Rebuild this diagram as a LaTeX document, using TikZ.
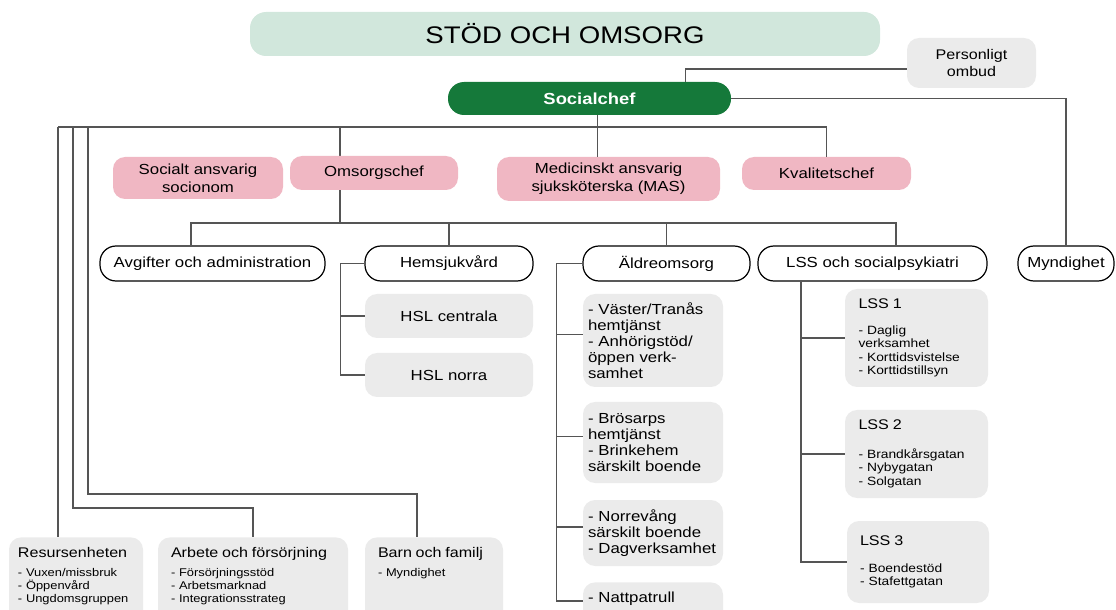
\documentclass[tikz,border=0pt]{standalone}
\usepackage{fontspec}
\setmainfont{Liberation Sans}[FakeStretch=1.15]
\usetikzlibrary{shapes}
\usetikzlibrary{positioning}

\definecolor{mint}{RGB}{209,231,220}
\definecolor{darkgreen}{RGB}{21,121,58}
\definecolor{rose}{RGB}{240,183,195}
\definecolor{pale}{RGB}{235,235,235}
\definecolor{linegray}{RGB}{85,85,85}

\begin{document}
\begin{tikzpicture}[x=0.5pt, y=-0.5pt,
  unit/.style 2 args={rectangle, rounded corners=6pt, minimum width=#1*0.5pt, minimum height=#2*0.5pt, inner sep=1pt, align=center},
  chef/.style={fill=rose, font=\fontsize{7.3}{9.2}\selectfont},
  dept/.style={draw=black, line width=0.6pt, fill=white, rounded corners=8pt, font=\fontsize{7.3}{9}\selectfont},
  grp/.style={fill=pale, font=\fontsize{7.3}{9}\selectfont},
  lst/.style={fill=pale, align=left, text width=65pt, inner xsep=2.5pt, font=\fontsize{7.3}{8}\selectfont},
  lsslst/.style={fill=pale, align=left, text width=58pt, inner xsep=6.5pt, font=\fontsize{6}{6.75}\selectfont},
  botlst/.style={fill=pale, anchor=north, align=left, inner ysep=5pt, text depth=40pt, font=\fontsize{5.6}{6.5}\selectfont},
  wire/.style={draw=linegray, line width=0.7pt}]

  \clip (0,0) rectangle (1116,610);

  %% bus points
  \coordinate (l1) at (58,127);
  \coordinate (l2) at (73,127);
  \coordinate (l3) at (88,127);
  \coordinate (top) at (340,127);
  \coordinate (mid) at (340,223);
  \draw[wire] (top) -- (mid);

  %% head
  \node[unit={630}{44}, fill=mint, rounded corners=8pt, font=\fontsize{12}{14}\selectfont] (title) at (565,34) {STÖD OCH OMSORG};
  \node[unit={283}{33}, fill=darkgreen, text=white, rounded corners=8pt, font=\bfseries\fontsize{8}{10}\selectfont] (soc) at (589.5,98.5) {Socialchef};
  \node[unit={129}{50}, grp, font=\fontsize{7}{8.5}\selectfont] (pers) at (971.5,63) {Personligt\\ombud};

  %% staff
  \node[unit={170}{42}, chef] (ssoc) at (198,178) {Socialt ansvarig\\socionom};
  \node[unit={168}{34}, chef] (oms) at (374,173) {Omsorgschef};
  \node[unit={223}{44}, chef] (mas) at (608.5,179) {Medicinskt ansvarig\\sjuksköterska (MAS)};
  \node[unit={169}{33}, chef] (kval) at (826.5,173.5) {Kvalitetschef};

  %% departments
  \foreach \name/\x/\w/\txt in {avg/212.5/225/Avgifter och administration, hem/449/168/Hemsjukvård,
      aldre/666.5/167/Äldreomsorg, lss/872.5/229/LSS och socialpsykiatri, mynd/1066/96/Myndighet}
    \node[unit={\w}{35}, dept] (\name) at (\x,263.5) {\txt};

  %% hemsjukvard
  \node[unit={168}{44}, grp] (hslc) at (449,316) {HSL centrala};
  \node[unit={168}{44}, grp] (hsln) at (449,375) {HSL norra};

  %% aldreomsorg
  \node[unit={140}{93}, lst] (a1) at (653,340.5) {- Väster/Tranås\\hemtjänst\\- Anhörigstöd/\\öppen verk-\\samhet};
  \node[unit={140}{81}, lst] (a2) at (653,442.5) {- Brösarps\\hemtjänst\\- Brinkehem\\särskilt boende};
  \node[unit={140}{66}, lst] (a3) at (653,533) {- Norrevång\\särskilt boende\\- Dagverksamhet};
  \node[unit={140}{36}, lst, anchor=north, inner ysep=5pt, text depth=20pt] (a4) at (653,582) {- Nattpatrull};

  %% lss
  \node[unit={143}{98}, lsslst] (lss1) at (916.5,338)
    {{\fontsize{7}{8}\selectfont LSS 1\par}\vspace{6.2pt}- Daglig\\verksamhet\\- Korttidsvistelse\\- Korttidstillsyn};
  \node[unit={143}{88}, lsslst] (lss2) at (916.5,454)
    {{\fontsize{7}{8}\selectfont LSS 2\par}\vspace{7.5pt}- Brandkårsgatan\\- Nybygatan\\- Solgatan};
  \node[unit={142}{82}, lsslst] (lss3) at (918,562)
    {{\fontsize{7}{8}\selectfont LSS 3\par}\vspace{6.5pt}- Boendestöd\\- Stafettgatan};

  %% bottom row
  \node[unit={134}{20}, botlst, text width=58pt, inner xsep=4.5pt] (res) at (76,537)
    {{\fontsize{7}{8}\selectfont Resursenheten\par}\vspace{3pt}- Vuxen/missbruk\\- Öppenvård\\- Ungdomsgruppen};
  \node[unit={190}{20}, botlst, text width=82pt, inner xsep=6.5pt] (arb) at (253,537)
    {{\fontsize{7}{8}\selectfont Arbete och försörjning\par}\vspace{3pt}- Försörjningsstöd\\- Arbetsmarknad\\- Integrationsstrateg};
  \node[unit={138}{20}, botlst, text width=56pt, inner xsep=6.5pt] (barn) at (434,537)
    {{\fontsize{7}{8}\selectfont Barn och familj\par}\vspace{3pt}- Myndighet};

  %% connectors
  \draw[wire] ([yshift=-3pt]pers.west) -| ([xshift=48pt]soc.north);
  \draw[wire] (soc.east) -| (mynd.north);
  \draw[wire] (l1) -- (kval.north |- l1) -- (kval.north);
  \draw[wire] ([xshift=4pt]soc.south) -- ([xshift=4pt]soc.south |- mas.north);
  \draw[wire] (l1) -- (l1 |- res.north);
  \draw[wire] (l2) |- ([yshift=14.5pt]arb.north) -- (arb.north);
  \draw[wire] (l3) |- ([xshift=-8.5pt,yshift=21.5pt]barn.north) -- ([xshift=-8.5pt]barn.north);

  \draw[wire] ([xshift=-10.75pt]avg.north) |- (mid) -| ([xshift=11.75pt]lss.north);
  \foreach \d in {hem,aldre}
    \draw[wire] (\d.north) -- (\d.north |- mid);

  \draw[wire] (hem.west) -- ++(-12pt,0) |- (hsln.west);
  \draw[wire] (hslc.west) -- ++(-12pt,0);

  \draw[wire] (aldre.west) -- ++(-13pt,0) |- ([yshift=-9.5pt]a4.north west);
  \foreach \b in {a1,a2,a3}
    \draw[wire] ([yshift=3pt]\b.west) -- ++(-13pt,0);

  \draw[wire] ([xshift=-35.75pt]lss.south) |- (lss3.west);
  \foreach \b in {lss1,lss2}
    \draw[wire] (\b.west) -- ++(-22pt,0);

\end{tikzpicture}
\end{document}
